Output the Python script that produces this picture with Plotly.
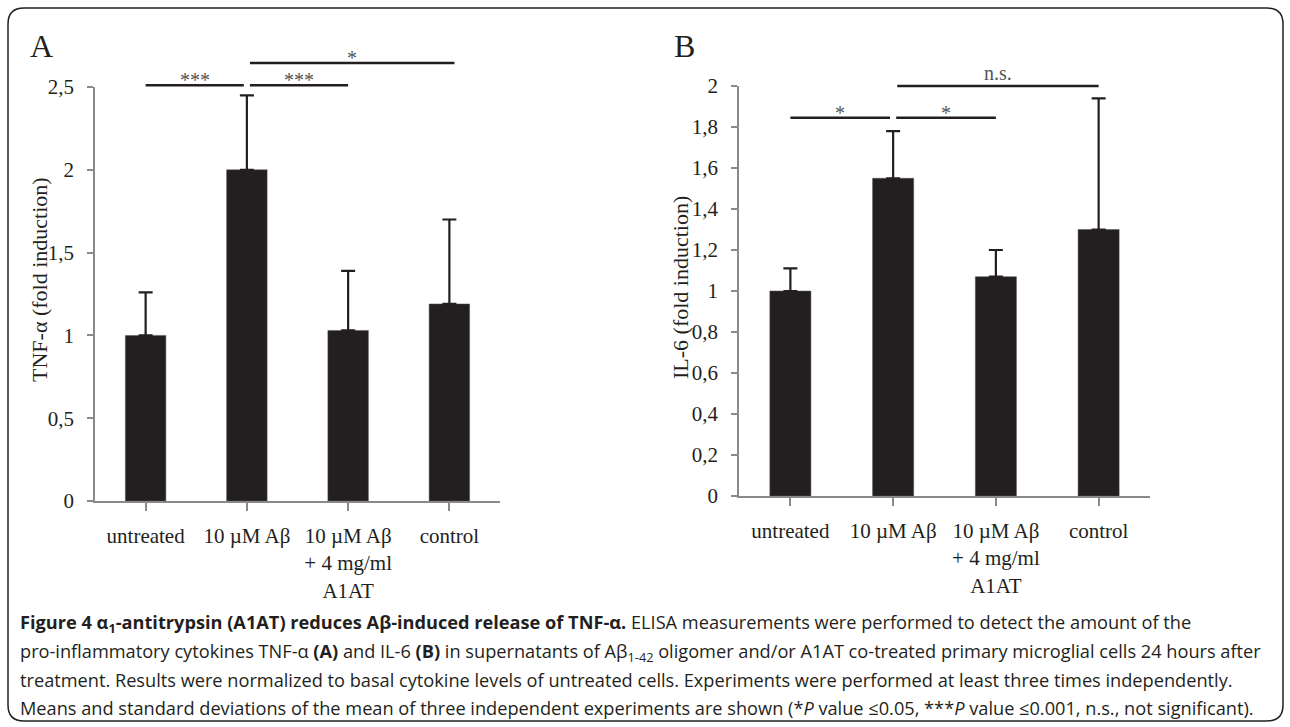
import plotly.graph_objects as go

# ---------------- data ----------------
categories = ["untreated", "10 µM Aβ", "10 µM Aβ<br>+ 4 mg/ml<br>A1AT", "control"]
tnf_mean = [1.0, 2.0, 1.03, 1.19]
tnf_sd = [0.26, 0.45, 0.36, 0.51]
il6_mean = [1.0, 1.55, 1.07, 1.30]
il6_sd = [0.11, 0.23, 0.13, 0.64]

tnf_ticks = [0, 0.5, 1, 1.5, 2, 2.5]
tnf_ticktext = ["0", "0,5", "1", "1,5", "2", "2,5"]
il6_ticks = [0, 0.2, 0.4, 0.6, 0.8, 1.0, 1.2, 1.4, 1.6, 1.8, 2.0]
il6_ticktext = ["0", "0,2", "0,4", "0,6", "0,8", "1", "1,2", "1,4", "1,6", "1,8", "2"]

# significance brackets: (from index, to index, level, label)
tnf_sig = [(0, 0.97, 2.51, "***"), (1.03, 2, 2.51, "***"), (1.03, 3.05, 2.645, "*")]
il6_sig = [(0, 0.97, 1.845, "*"), (1.03, 2, 1.845, "*"), (1.04, 3, 2.0, "n.s.")]

caption_lines = [
    "<b>Figure 4 α<sub>1</sub>-antitrypsin (A1AT) reduces Aβ-induced release of TNF-α.</b> ELISA measurements were performed to detect the amount of the",
    "pro-inflammatory cytokines TNF-α <b>(A)</b> and IL-6 <b>(B)</b> in supernatants of Aβ<sub>1-42</sub> oligomer and/or A1AT co-treated primary microglial cells 24 hours after",
    "treatment. Results were normalized to basal cytokine levels of untreated cells. Experiments were performed at least three times independently.",
    "Means and standard deviations of the mean of three independent experiments are shown (*<i>P</i> value ≤0.05, ***<i>P</i> value ≤0.001, n.s., not significant).",
]

# ---------------- style ----------------
W, H = 1290, 727
BAR = "#231f20"
AXIS = "#8a8a8a"
SERIF = "Liberation Serif, Times New Roman, serif"
SANS = "Open Sans, Noto Sans, sans-serif"

def px_x(v):
    return v / W

def px_y(v):
    return 1 - v / H

fig = go.Figure()

panels = [
    dict(x="x", y="y", mean=tnf_mean, sd=tnf_sd, ymax=2.5, ticks=tnf_ticks, tt=tnf_ticktext,
         sig=tnf_sig, xdom=[px_x(95), px_x(500)], ydom=[px_y(501), px_y(87)]),
    dict(x="x2", y="y2", mean=il6_mean, sd=il6_sd, ymax=2.0, ticks=il6_ticks, tt=il6_ticktext,
         sig=il6_sig, xdom=[px_x(739), px_x(1150)], ydom=[px_y(496), px_y(86)]),
]

for p in panels:
    fig.add_trace(go.Bar(
        x=list(range(len(categories))), y=p["mean"], xaxis=p["x"], yaxis=p["y"],
        width=0.4, marker=dict(color=BAR, line=dict(color="#555", width=0.5)),
        error_y=dict(type="data", symmetric=False, array=p["sd"], arrayminus=[0] * len(p["sd"]),
                     color=BAR, thickness=2.2, width=7),
        showlegend=False, hoverinfo="skip",
    ))

layout_axes = {}
for k, p in enumerate(panels):
    xn = "xaxis" if k == 0 else "xaxis2"
    yn = "yaxis" if k == 0 else "yaxis2"
    layout_axes[xn] = dict(
        domain=p["xdom"], anchor=p["y"], range=[-0.5, len(categories) - 0.5],
        tickmode="array", tickvals=list(range(len(categories))), ticktext=categories,
        tickson="boundaries", ticks="outside", ticklen=8, tickwidth=1.5, tickcolor=AXIS,
        showline=True, linecolor=AXIS, linewidth=1.5, showgrid=False, zeroline=False,
        tickfont=dict(family=SERIF, size=21, color=BAR), ticklabelstandoff=7,
    )
    layout_axes[yn] = dict(
        domain=p["ydom"], anchor=p["x"], range=[0, p["ymax"]],
        tickmode="array", tickvals=p["ticks"], ticktext=p["tt"],
        ticks="outside", ticklen=6, tickwidth=1.5, tickcolor=AXIS,
        showline=True, linecolor=AXIS, linewidth=1.5, showgrid=False, zeroline=False,
        tickfont=dict(family=SERIF, size=21, color=BAR), ticklabelstandoff=9,
    )

shapes = []
annotations = []
for p in panels:
    for (i, j, lvl, lab) in p["sig"]:
        yd = lvl / p["ymax"]
        shapes.append(dict(type="line", xref=p["x"], yref=p["y"] + " domain",
                           x0=i, x1=j, y0=yd, y1=yd, line=dict(color=BAR, width=2.5)))
        annotations.append(dict(xref=p["x"], yref=p["y"] + " domain", x=(i + j) / 2, y=yd,
                                text=lab, showarrow=False, xanchor="center", yanchor="bottom",
                                yshift=-8 if "*" in lab else 0,
                                font=dict(family=SERIF, size=20, color="#555")))

# panel letters and axis titles
annotations += [
    dict(xref="paper", yref="paper", x=px_x(41), y=px_y(46), text="A", showarrow=False,
         xanchor="center", yanchor="middle", font=dict(family=SERIF, size=32, color=BAR)),
    dict(xref="paper", yref="paper", x=px_x(684), y=px_y(46), text="B", showarrow=False,
         xanchor="center", yanchor="middle", font=dict(family=SERIF, size=32, color=BAR)),
    dict(xref="paper", yref="paper", x=px_x(39), y=px_y(280), text="TNF-α (fold induction)",
         showarrow=False, textangle=-90, xanchor="center", yanchor="middle",
         font=dict(family=SERIF, size=22, color=BAR)),
    dict(xref="paper", yref="paper", x=px_x(681), y=px_y(288), text="IL-6 (fold induction)",
         showarrow=False, textangle=-90, xanchor="center", yanchor="middle",
         font=dict(family=SERIF, size=22, color=BAR)),
]

cap_y = [623, 652, 680, 708]
for t, yy in zip(caption_lines, cap_y):
    annotations.append(dict(xref="paper", yref="paper", x=px_x(18), y=px_y(yy), text=t,
                            showarrow=False, xanchor="left", yanchor="middle", align="left",
                            font=dict(family=SANS, size=18.2, color=BAR)))

# rounded frame
x0, x1, y0, y1, r = px_x(8), px_x(1283), px_y(8), px_y(721), 16
rx, ry = r / W, r / H
frame = (f"M {x0+rx},{y0} L {x1-rx},{y0} Q {x1},{y0} {x1},{y0-ry} L {x1},{y1+ry} "
         f"Q {x1},{y1} {x1-rx},{y1} L {x0+rx},{y1} Q {x0},{y1} {x0},{y1+ry} "
         f"L {x0},{y0-ry} Q {x0},{y0} {x0+rx},{y0} Z")
shapes.append(dict(type="path", xref="paper", yref="paper", path=frame,
                   line=dict(color=BAR, width=1.5)))

fig.update_layout(
    width=W, height=H, margin=dict(l=0, r=0, t=0, b=0, autoexpand=False),
    paper_bgcolor="white", plot_bgcolor="white",
    shapes=shapes, annotations=annotations, bargap=0.6,
    **layout_axes,
)

fig.write_html("out.html", config={"displayModeBar": False},
               post_script="document.body.style.margin='0';document.body.style.overflow='hidden';")
